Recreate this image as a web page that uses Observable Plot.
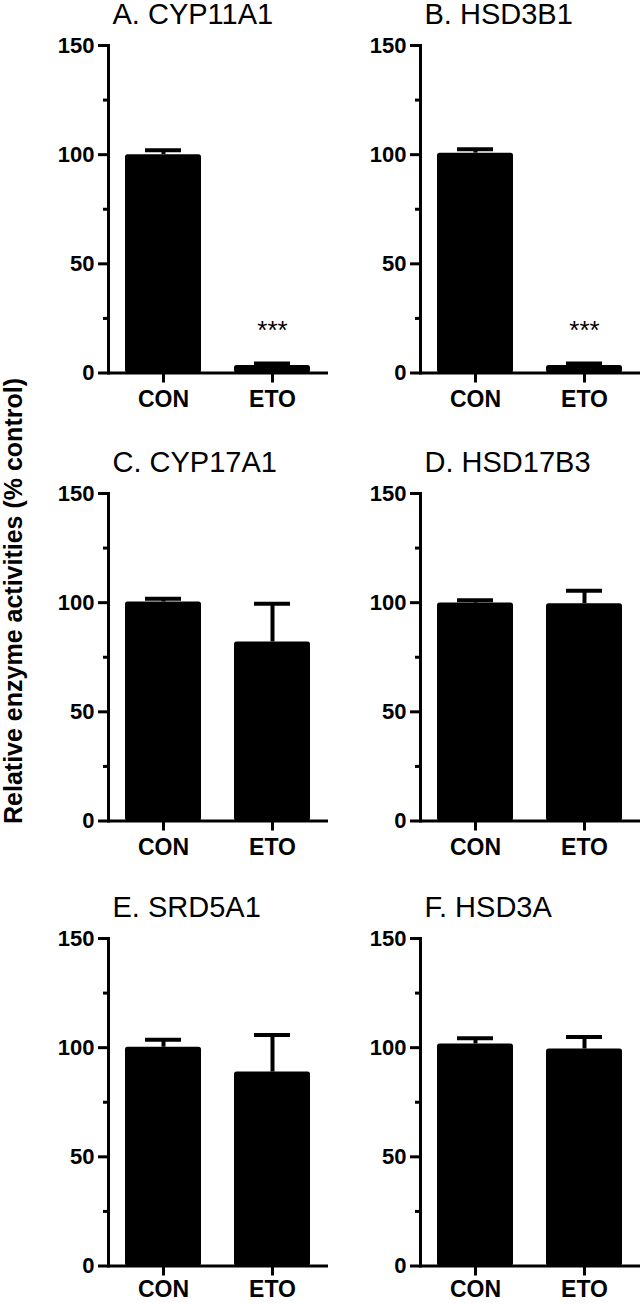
<!DOCTYPE html>
<html>
<head>
<meta charset="utf-8">
<script src="https://cdn.jsdelivr.net/npm/d3@7"></script>
<script src="https://cdn.jsdelivr.net/npm/@observablehq/plot@0.6"></script>
<style>
  html, body { margin: 0; padding: 0; background: white; overflow: hidden; }
  #fig { position: relative; width: 642px; height: 1304px; font-family: "Liberation Sans", Arial, sans-serif; }
  #fig svg { position: absolute; }
  #ylab { position: absolute; left: 13px; top: 601px; transform: translate(-50%, -50%) rotate(-90deg);
          white-space: nowrap; font-size: 25px; font-weight: bold; line-height: 1; color: black; }
</style>
</head>
<body>
<div id="fig"><div id="ylab">Relative enzyme activities (% control)</div></div>
<script>
// ---- data ----
const panels = ["A. CYP11A1", "B. HSD3B1", "C. CYP17A1", "D. HSD17B3", "E. SRD5A1", "F. HSD3A"];
const groups = ["CON", "ETO"];
const conMean = [100, 100.7, 100.3, 99.8, 100.2, 101.7];
const conErr  = [2.0, 1.8, 1.5, 1.3, 3.4, 2.6];
const etoMean = [3.4, 3.4, 82, 99.5, 88.8, 99.4];
const etoErr  = [1.0, 1.0, 17.5, 6.0, 17.0, 5.5];
const etoSig  = ["***", "***", "", "", "", ""];
const yTicks = [0, 50, 100, 150];
const yMinorTicks = [25, 75, 125];

const FONT = "Liberation Sans, Arial, sans-serif";
const fig = document.getElementById("fig");
const rowTop = [0, 448, 893];

panels.forEach((title, i) => {
  const col = i % 2, row = Math.floor(i / 2);
  const h = row < 2 ? 448 : 1304 - rowTop[2];
  const data = groups.map((g, j) => ({
    group: g,
    value: j ? etoMean[i] : conMean[i],
    err: j ? etoErr[i] : conErr[i],
    sig: j ? etoSig[i] : ""
  }));
  const chart = Plot.plot({
    width: 330,
    height: h,
    marginLeft: 108,
    marginRight: 2,
    marginTop: 45,
    marginBottom: h - 372.5,
    style: {background: "transparent", fontFamily: FONT, color: "black", overflow: "visible"},
    x: {domain: groups, range: [125, 311], paddingInner: 0.3, paddingOuter: 0},
    y: {domain: [0, 150]},
    marks: [
      Plot.barY(data, {x: "group", y: "value", fill: "black", rx: 2.5}),
      Plot.ruleX(data, {x: "group", y1: "value", y2: d => d.value + d.err, stroke: "black", strokeWidth: 4}),
      Plot.tickY(data, {x: "group", y: d => d.value + d.err, stroke: "black", strokeWidth: 4, insetLeft: 20, insetRight: 20}),
      Plot.text(data, {x: "group", y: d => d.value + d.err, text: "sig", dy: -33, fontSize: 26, fill: "black"}),
      Plot.ruleY([0], {stroke: "black", strokeWidth: 3}),
      Plot.frame({anchor: "left", stroke: "black", strokeWidth: 3}),
      Plot.axisY({ticks: yTicks, tickSize: 10, tickPadding: 4, fontSize: 22, fontWeight: "bold", strokeWidth: 3, label: null}),
      Plot.axisY({ticks: yMinorTicks, tickSize: 5, tickFormat: () => "", strokeWidth: 3, label: null}),
      Plot.axisX({tickSize: 10, tickPadding: row < 2 ? 8 : 5, fontSize: 23, fontWeight: "bold", strokeWidth: 3, label: null}),
      Plot.text([title], {frameAnchor: "top-left", dx: 4, dy: -22, lineAnchor: "bottom", textAnchor: "start", fontSize: 29, fill: "black"})
    ]
  });
  chart.style.left = (col * 312) + "px";
  chart.style.top = rowTop[row] + "px";
  fig.appendChild(chart);
});
</script>
</body>
</html>
